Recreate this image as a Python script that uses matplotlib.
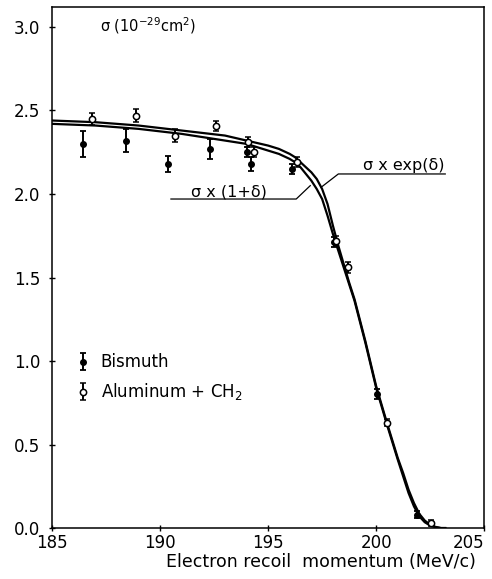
import numpy as np
import matplotlib.pyplot as plt

# Data

# theory curves (x in MeV/c, sigma in 1e-29 cm^2)
curve_x = [185, 187, 189, 191, 193, 194, 195, 195.5, 196, 196.25, 196.5, 196.75,
           197, 197.25, 197.5, 197.75, 198, 198.25, 198.5, 198.75, 199, 199.5,
           200, 200.5, 201, 201.25, 201.5, 201.75, 202, 202.25, 202.5, 202.75,
           203, 203.2]
sigma_lin = [2.42, 2.41, 2.39, 2.36, 2.32, 2.30, 2.26, 2.24, 2.21, 2.19, 2.16, 2.12,
             2.08, 2.03, 1.97, 1.87, 1.76, 1.66, 1.56, 1.46, 1.36, 1.11,
             0.84, 0.62, 0.41, 0.31, 0.21, 0.13, 0.07, 0.035, 0.015, 0.005,
             0.0, 0.0]
sigma_exp = [2.44, 2.43, 2.41, 2.38, 2.35, 2.32, 2.29, 2.27, 2.24, 2.22, 2.19, 2.16,
             2.13, 2.09, 2.03, 1.94, 1.81, 1.69, 1.58, 1.47, 1.37, 1.12,
             0.85, 0.63, 0.42, 0.33, 0.23, 0.15, 0.085, 0.045, 0.02, 0.007,
             0.0, 0.0]

# Bismuth
bi_x = [186.45, 188.4, 190.35, 192.3, 194.0, 194.2, 196.1, 198.05, 200.05, 201.9]
bi_y = [2.30, 2.32, 2.18, 2.27, 2.25, 2.18, 2.15, 1.71, 0.80, 0.08]
bi_err = [0.08, 0.07, 0.05, 0.06, 0.03, 0.04, 0.03, 0.03, 0.03, 0.02]

# Aluminum + CH2
al_x = [186.85, 188.9, 190.7, 192.6, 194.05, 194.35, 196.35, 198.15, 198.7, 200.5, 202.55]
al_y = [2.45, 2.47, 2.35, 2.41, 2.31, 2.25, 2.19, 1.72, 1.56, 0.63, 0.03]
al_err = [0.035, 0.04, 0.04, 0.03, 0.03, 0.03, 0.03, 0.03, 0.03, 0.02, 0.02]

xticks = [185, 190, 195, 200, 205]
yticks = [0.0, 0.5, 1.0, 1.5, 2.0, 2.5, 3.0]

plt.rcParams['font.family'] = ['DejaVu Sans']

fig = plt.figure(figsize=(4.92, 5.79), dpi=100)
ax = fig.add_axes([0.106, 0.088, 0.878, 0.900])

# Curves
ax.plot(curve_x, sigma_lin, color='black', lw=1.6, solid_joinstyle='round')
ax.plot(curve_x, sigma_exp, color='black', lw=1.6, solid_joinstyle='round')

# Data points
ax.errorbar(bi_x, bi_y, yerr=bi_err, fmt='o', ms=4, color='black',
            mfc='black', ecolor='black', elinewidth=1.4, capsize=2.5,
            capthick=1.3, label='Bismuth', zorder=3)
ax.errorbar(al_x, al_y, yerr=al_err, fmt='o', ms=4.5, color='black',
            mfc='white', mec='black', mew=1.1, ecolor='black', elinewidth=1.4,
            capsize=2.5, capthick=1.3, label='Aluminum + CH$_2$', zorder=3)

# Curve labels with leader lines
ax.text(193.2, 2.01, 'σ x (1+δ)', ha='center', va='center', fontsize=11.5)
ax.plot([190.5, 196.3, 196.95], [1.97, 1.97, 2.05], color='black', lw=0.9)
ax.text(201.3, 2.17, 'σ x exp(δ)', ha='center', va='center', fontsize=11.5)
ax.plot([197.45, 198.25, 203.2], [2.04, 2.12, 2.12], color='black', lw=0.9)

# Axis title inside the frame
ax.text(187.2, 3.01, 'σ (10$^{-29}$cm$^2$)', ha='left', va='center',
        fontsize=10.5)

ax.set_xlim(185, 205)
ax.set_ylim(0, 3.12)
ax.set_xticks(xticks)
ax.set_yticks(yticks)
ax.set_yticklabels(['%.1f' % v for v in yticks])
ax.tick_params(direction='inout', length=5, width=1, labelsize=12)
ax.tick_params(axis='y', pad=6)
ax.tick_params(axis='x', pad=2)
ax.get_xticklabels()[-1].set_horizontalalignment('right')
for s in ax.spines.values():
    s.set_linewidth(1.1)

ax.text(0.623, -0.065, 'Electron recoil  momentum (MeV/c)', fontsize=12.5,
        ha='center', va='center', transform=ax.transAxes)

ax.legend(loc='center left', bbox_to_anchor=(0.02, 0.288), frameon=False,
          fontsize=12, handlelength=0.9, handletextpad=0.6, labelspacing=0.6)

fig.savefig('out.png', dpi=100)
